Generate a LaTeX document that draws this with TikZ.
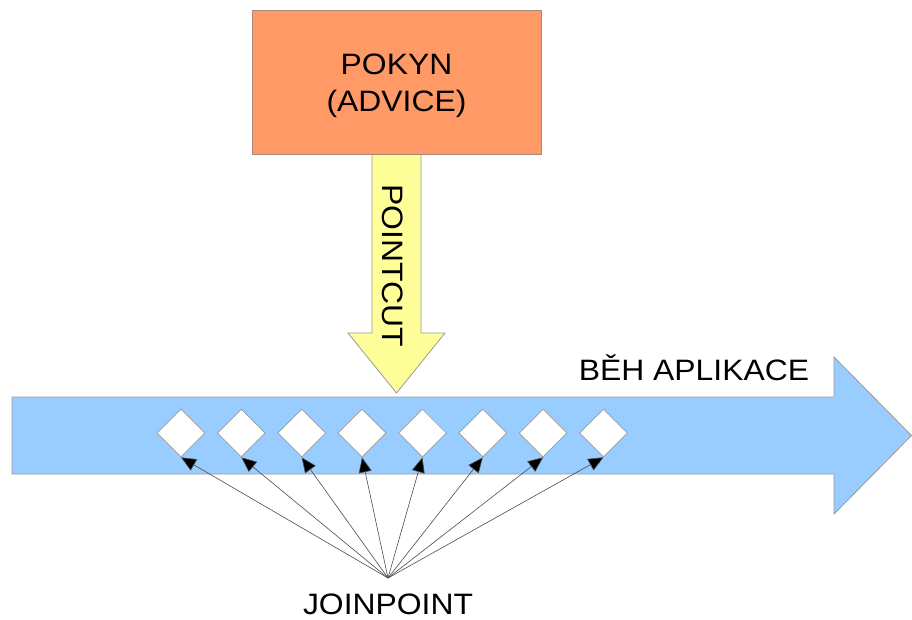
\documentclass[tikz,border=0pt]{standalone}
\usepackage{fontspec}
\setmainfont{Liberation Sans}[FakeStretch=1.08]
\usetikzlibrary{arrows.meta,shapes.geometric}

\definecolor{advicefill}{HTML}{FF9966}
\definecolor{cutfill}{HTML}{FFFF99}
\definecolor{flowfill}{HTML}{99CCFF}
\definecolor{edgegray}{HTML}{9A9A9A}
\definecolor{boxedge}{HTML}{A88A7A}

\tikzset{
  label text/.style={font=\fontsize{29.5}{36}\selectfont, inner sep=0pt, text=black},
  advicebox/.style={draw=boxedge, line width=0.9pt, fill=advicefill,
    minimum width=289pt, minimum height=144pt, inner sep=0pt},
  shapeedge/.style={draw=edgegray, line width=0.8pt},
  joinmark/.style={diamond, draw=edgegray, line width=0.7pt, fill=white,
    minimum width=48pt, minimum height=48pt, inner sep=0pt},
  pointer/.style={draw=black!70, line width=0.6pt,
    -{Triangle[length=15pt,width=13pt,fill=black]}},
}

\begin{document}
\begin{tikzpicture}[x=1pt,y=-1pt]
  \useasboundingbox (0,0) rectangle (912,619);

  % program flow arrow
  \path[shapeedge, fill=flowfill]
    (12,397) -- (834,397) -- (834,357) -- (911.5,435.5) -- (834,514)
    -- (834,474) -- (12,474) -- cycle;

  % pointcut arrow coming down from the advice
  \path[shapeedge, fill=cutfill]
    (372,154) -- (421,154) -- (421,333) -- (445,333) -- (396.5,393)
    -- (348,333) -- (372,333) -- cycle;

  % advice box and its two-line caption
  \node[advicebox] (advice) at (396.5,82) {};
  \node[label text, align=center, font=\fontsize{29.5}{37}\selectfont]
    (advicetext) at (396.5,86) {POKYN\\(ADVICE)};

  % labels
  \node[label text, rotate=-90] (pointcut) at (393,266) {POINTCUT};
  \node[label text] (flow) at (694,367.5) {BĚH APLIKACE};
  \node[label text] (joinlabel) at (388,604.5) {JOINPOINT};

  % join points along the flow
  \foreach \i in {1,...,8} {
    \node[joinmark] (d\i) at ({181+60.35*(\i-1)},433) {};
  }

  % pointers from the label to every join point
  \coordinate (apex) at (388,578);
  \foreach \i in {1,...,8} {
    \draw[pointer] (apex) -- (d\i.south);
  }
\end{tikzpicture}
\end{document}
